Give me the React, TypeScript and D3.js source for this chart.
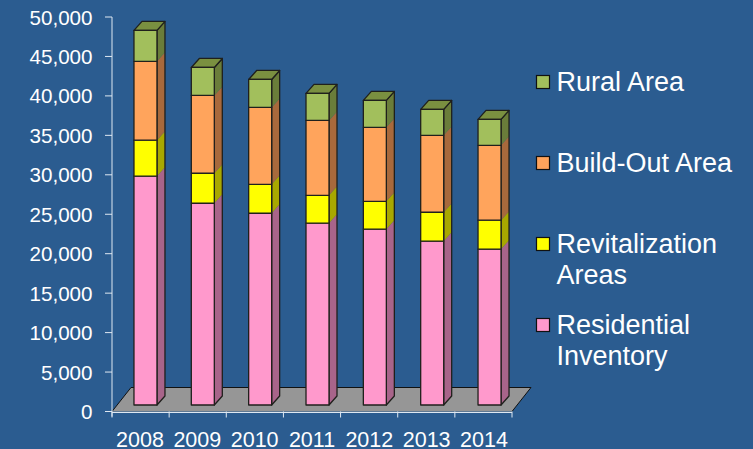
import React from "react";
import * as d3 from "d3";

const years = ["2008", "2009", "2010", "2011", "2012", "2013", "2014"];
const residential = [29000, 25570, 24300, 23040, 22280, 20760, 19750];
const revitalization = [4560, 3800, 3670, 3540, 3540, 3670, 3670];
const buildOut = [10000, 9870, 9750, 9490, 9370, 9750, 9490];
const rural = [3920, 3540, 3540, 3420, 3420, 3290, 3290];
const yTicks = d3.range(0, 50001, 5000);

const seriesDefs = [
  { values: residential, front: "#ff99cc", side: "#a8648a", top: "#c47aa0" },
  { values: revitalization, front: "#ffff00", side: "#a8a800", top: "#c4c400" },
  { values: buildOut, front: "#ffa45c", side: "#a8693c", top: "#c48048" },
  { values: rural, front: "#a2bf5c", side: "#6a7d3a", top: "#7a9040" },
];

const legendItems = [
  { lines: ["Rural Area"], color: "#a2bf5c", y: 82 },
  { lines: ["Build-Out Area"], color: "#ffa45c", y: 163 },
  { lines: ["Revitalization", "Areas"], color: "#ffff00", y: 244 },
  { lines: ["Residential", "Inventory"], color: "#ff99cc", y: 325 },
];

const FONT = "'Liberation Sans', Arial, sans-serif";
const BG = "#2b5c90";
const AXIS = "#dfe8f2";

export default function App() {
  const y = d3.scaleLinear().domain([0, 50000]).range([411.5, 17]);
  const x = d3.scaleBand<string>().domain(years).range([112, 512]);
  const barX = d3.scaleBand<string>().domain(years).range([116.8, 518.2]);
  const step = x.step();
  const barW = 23;
  const dx = 8;
  const dy = 9;
  const barBase = -6.5;
  const floorDx = 19;
  const floorDy = 24;
  const edge = "#20201c";

  return (
    <svg
      width={753}
      height={449}
      style={{ position: "fixed", left: 0, top: 0, background: BG, display: "block" }}
      fontFamily={FONT}
    >
      <rect width={753} height={449} fill={BG} />
      {/* floor */}
      <polygon
        points={`112,${y(0)} ${112 + floorDx},${y(0) - floorDy} ${512 + floorDx},${y(0) - floorDy} 512,${y(0)}`}
        fill="#969696"
      />
      <polyline
        points={`112,${y(0)} ${112 + floorDx},${y(0) - floorDy} ${512 + floorDx},${y(0) - floorDy} 512,${y(0)}`}
        fill="none"
        stroke="#111"
        strokeWidth={1}
      />
      {/* axes */}
      <line x1={112} x2={112} y1={y(50000)} y2={y(0) + 5} stroke={AXIS} strokeWidth={1} />
      <line x1={112} x2={512} y1={y(0) + 1} y2={y(0) + 1} stroke={AXIS} strokeWidth={1} />
      {yTicks.map((t) => (
        <g key={t}>
          <line x1={105} x2={112} y1={y(t)} y2={y(t)} stroke={AXIS} strokeWidth={1} />
          <text x={92.5} y={y(t) + 7.5} textAnchor="end" fontSize={20.6} fill="#fff">
            {d3.format(",")(t)}
          </text>
        </g>
      ))}
      {d3.range(0, years.length + 1).map((i) => (
        <line key={i} x1={112 + i * step} x2={112 + i * step} y1={y(0)} y2={y(0) + 6} stroke={AXIS} strokeWidth={1} />
      ))}
      {years.map((yr) => (
        <text key={yr} x={(barX(yr) as number) + barX.step() / 2 - 5.5} y={447} textAnchor="middle" fontSize={21.5} fill="#fff">
          {yr}
        </text>
      ))}
      {/* bars */}
      {years.map((yr, i) => {
        const bx = (barX(yr) as number) + (barX.step() - barW) / 2;
        const total = seriesDefs.reduce((acc, s) => acc + s.values[i], 0);
        const yBase = y(0) + barBase;
        const yTop = y(total) + barBase;
        let cum = 0;
        return (
          <g key={yr} strokeLinejoin="round">
            {seriesDefs.map((s, si) => {
              const v0 = cum;
              cum += s.values[i];
              const yb = y(v0) + barBase;
              const yt = y(cum) + barBase;
              return (
                <polygon
                  key={si}
                  points={`${bx + barW},${yb} ${bx + barW + dx},${yb - dy} ${bx + barW + dx},${yt - dy} ${bx + barW},${yt}`}
                  fill={s.side}
                />
              );
            })}
            <polygon
              points={`${bx + barW},${yBase} ${bx + barW + dx},${yBase - dy} ${bx + barW + dx},${yTop - dy} ${bx + barW},${yTop}`}
              fill="none"
              stroke={edge}
              strokeWidth={1.3}
            />
            <polygon
              points={`${bx},${yTop} ${bx + dx},${yTop - dy} ${bx + barW + dx},${yTop - dy} ${bx + barW},${yTop}`}
              fill={seriesDefs[seriesDefs.length - 1].top}
              stroke={edge}
              strokeWidth={1.3}
            />
            {(() => {
              let c = 0;
              return seriesDefs.map((s, si) => {
                const v0 = c;
                c += s.values[i];
                const yb = y(v0) + barBase;
                const yt = y(c) + barBase;
                return (
                  <rect key={si} x={bx} y={yt} width={barW} height={yb - yt} fill={s.front} stroke={edge} strokeWidth={1.3} />
                );
              });
            })()}
          </g>
        );
      })}
      {/* legend */}
      {legendItems.map((it) => (
        <g key={it.lines[0]}>
          <rect x={536.5} y={it.y - 6.5} width={13} height={13} fill={it.color} stroke="#111" strokeWidth={1.2} />
          {it.lines.map((ln, j) => (
            <text key={ln} x={556.5} y={it.y + 9 + j * 31} fontSize={27} fill="#fff">
              {ln}
            </text>
          ))}
        </g>
      ))}
    </svg>
  );
}
